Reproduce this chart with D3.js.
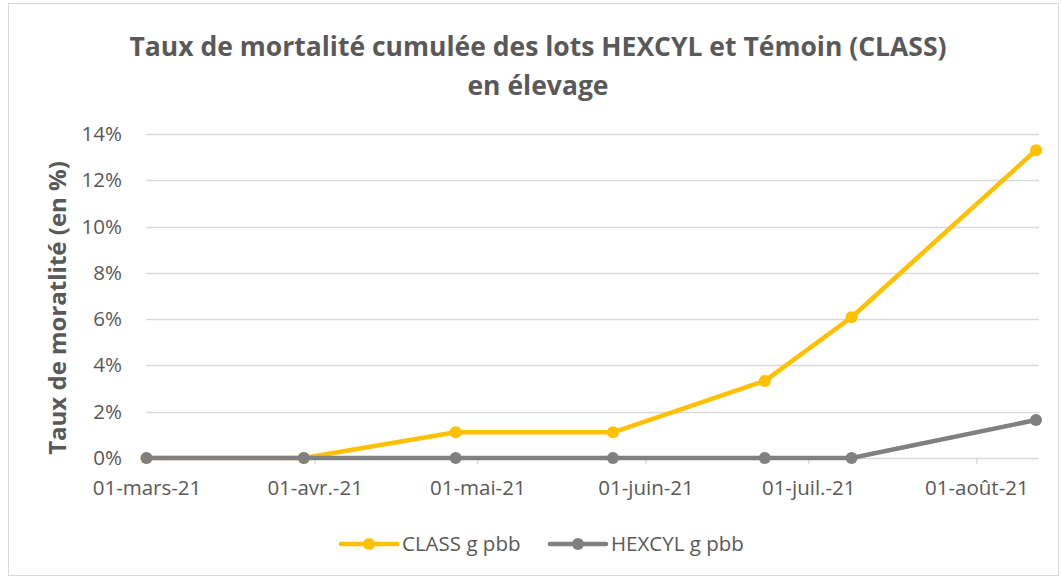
<!DOCTYPE html>
<html>
<head>
<meta charset="utf-8">
<script src="https://cdn.jsdelivr.net/npm/d3@7"></script>
<style>
  html, body { margin: 0; padding: 0; background: #fff; }
  svg { display: block; }
  text { font-family: "Open Sans", "Noto Sans", sans-serif; }
</style>
</head>
<body>
<svg id="chart" width="1061" height="579"></svg>
<script>
// Sampling dates (cumulative mortality observations)
const sampleDates = ["2021-03-01", "2021-03-30", "2021-04-27", "2021-05-26", "2021-06-23", "2021-07-09", "2021-08-12"];
// Cumulative mortality, in %
const classValues = [0, 0, 1.11, 1.11, 3.33, 6.08, 13.3];
const hexcylValues = [0, 0, 0, 0, 0, 0, 1.64];
const seriesNames = ["CLASS g pbb", "HEXCYL g pbb"];
const seriesColors = ["#FFC000", "#808080"];
const xTickDates = ["2021-03-01", "2021-04-01", "2021-05-01", "2021-06-01", "2021-07-01", "2021-08-01"];
const xTickLabels = ["01-mars-21", "01-avr.-21", "01-mai-21", "01-juin-21", "01-juil.-21", "01-août-21"];
const yTicks = [0, 2, 4, 6, 8, 10, 12, 14];

const parse = d3.utcParse("%Y-%m-%d");
const svg = d3.select("#chart");

// Chart frame
svg.append("rect")
  .attr("x", 8.5).attr("y", 3.5).attr("width", 1050).attr("height", 572)
  .attr("fill", "#fff").attr("stroke", "#d9d9d9").attr("stroke-width", 1);

const x = d3.scaleUtc()
  .domain([parse("2021-03-01"), parse("2021-08-12")])
  .range([146.5, 1036]);
const y = d3.scaleLinear().domain([0, 14]).range([458, 134]);
const plotLeft = 146, plotRight = 1039;

// Horizontal gridlines
svg.append("g").selectAll("line").data(yTicks).join("line")
  .attr("x1", plotLeft).attr("x2", plotRight)
  .attr("y1", d => Math.round(y(d)) + 0.5).attr("y2", d => Math.round(y(d)) + 0.5)
  .attr("stroke", "#d9d9d9").attr("stroke-width", 1.5);

// Y axis labels
const yAxis = d3.axisLeft(y).tickValues(yTicks).tickSize(0).tickPadding(0)
  .tickFormat(d => d + "%");
svg.append("g").attr("transform", "translate(122,0)").call(yAxis)
  .call(g => g.select(".domain").remove())
  .call(g => g.selectAll("text")
    .attr("fill", "#595959").style("font-size", "20.5px")
    .style("font-family", "'Open Sans', sans-serif"));

// X axis: tick marks and date labels
const xAxis = d3.axisBottom(x)
  .tickValues(xTickDates.map(parse))
  .tickSize(6).tickPadding(16)
  .tickFormat((d, i) => xTickLabels[i]);
svg.append("g").attr("transform", "translate(0,458)").call(xAxis)
  .call(g => g.select(".domain").remove())
  .call(g => g.selectAll(".tick line").attr("stroke", "#d9d9d9").attr("stroke-width", 1.5))
  .call(g => g.selectAll("text")
    .attr("fill", "#595959").style("font-size", "20.5px")
    .style("font-family", "'Open Sans', sans-serif"));

// Series lines and markers
const allSeries = [classValues, hexcylValues].map((vals, i) => ({
  name: seriesNames[i],
  color: seriesColors[i],
  points: vals.map((v, j) => ({ date: parse(sampleDates[j]), value: v }))
}));

const line = d3.line().x(d => x(d.date)).y(d => y(d.value));

allSeries.forEach(s => {
  const g = svg.append("g");
  g.append("path").datum(s.points)
    .attr("d", line)
    .attr("fill", "none")
    .attr("stroke", s.color)
    .attr("stroke-width", 4.5)
    .attr("stroke-linejoin", "round")
    .attr("stroke-linecap", "round");
  g.selectAll("circle").data(s.points).join("circle")
    .attr("cx", d => x(d.date)).attr("cy", d => y(d.value))
    .attr("r", 6).attr("fill", s.color);
});

// Title
const title = svg.append("text")
  .attr("text-anchor", "middle")
  .attr("fill", "#595959")
  .style("font-size", "26.5px").style("font-weight", "bold");
title.append("tspan").attr("x", 538).attr("y", 56)
  .text("Taux de mortalité cumulée des lots HEXCYL et Témoin (CLASS)");
title.append("tspan").attr("x", 538).attr("y", 95)
  .text("en élevage");

// Y axis title
svg.append("text")
  .attr("transform", "translate(66,308) rotate(-90)")
  .attr("text-anchor", "middle")
  .attr("fill", "#595959")
  .style("font-size", "24px").style("font-weight", "bold")
  .text("Taux de moratlité (en %)");

// Legend
const legendItems = [
  { name: seriesNames[0], color: seriesColors[0], x: 341 },
  { name: seriesNames[1], color: seriesColors[1], x: 550 }
];
const lg = svg.append("g").selectAll("g").data(legendItems).join("g")
  .attr("transform", d => `translate(${d.x},544)`);
lg.append("line").attr("x1", 0).attr("x2", 56).attr("y1", 0).attr("y2", 0)
  .attr("stroke", d => d.color).attr("stroke-width", 4.5).attr("stroke-linecap", "round");
lg.append("circle").attr("cx", 28).attr("cy", 0).attr("r", 6).attr("fill", d => d.color);
lg.append("text").attr("x", 61).attr("y", 0).attr("dy", "0.35em")
  .attr("fill", "#595959").style("font-size", "20.5px")
  .text(d => d.name);
</script>
</body>
</html>
